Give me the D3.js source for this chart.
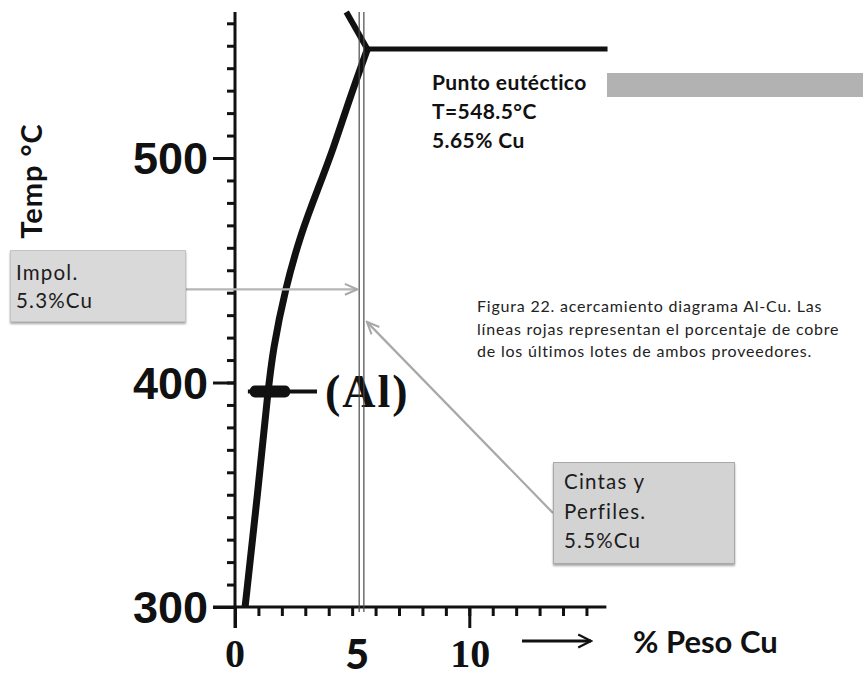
<!DOCTYPE html>
<html>
<head>
<meta charset="utf-8">
<script src="https://cdn.jsdelivr.net/npm/d3@7"></script>
<style>
  html, body { margin: 0; padding: 0; background: #fff; }
  svg { display: block; }
</style>
</head>
<body>
<svg id="chart" width="863" height="677"></svg>
<script>
// Al-rich corner of the Al-Cu phase diagram
const solvusCu = [0.43, 0.94, 1.41, 1.62, 2.13, 2.82, 3.54, 4.18, 4.87, 5.65];
const solvusT  = [300, 347.7, 396.7, 414.5, 441.2, 466.6, 486.2, 503.6, 525.8, 548.5];
const liquidusCu = [5.65, 4.75];
const liquidusT  = [548.5, 565];
const eutecticCu = [5.65, 15.9];
const eutecticT  = [548.5, 548.5];
const alMarkT = 396;
const alMarkCu = [0.55, 3.5];
const supplierNames = ["Impol.", "Cintas y Perfiles."];
const supplierCu = [5.3, 5.5];
const yMajorTicks = [300, 400, 500];
const yMinorTicks = d3.range(300, 565, 10);
const xMinorTicks = d3.range(0, 16, 1);
const xMajorTicks = [0, 10];

const svg = d3.select("#chart");

const x = d3.scaleLinear().domain([0, 10]).range([235, 469.3]);
const y = d3.scaleLinear().domain([300, 500]).range([607, 158]);
const yTop = 565, xEnd = 15.85;

const ink = "#111";

// ----- axes -----
const axisG = svg.append("g");
// y axis line (extends down to the long 0 tick)
axisG.append("line")
  .attr("x1", x(0)).attr("x2", x(0))
  .attr("y1", y(yTop)).attr("y2", y(300) + 21)
  .attr("stroke", ink).attr("stroke-width", 3);
// x axis line (extends left to the long 300 tick)
axisG.append("line")
  .attr("x1", x(0) - 22).attr("x2", x(xEnd))
  .attr("y1", y(300)).attr("y2", y(300))
  .attr("stroke", ink).attr("stroke-width", 3);

const yMinor = d3.axisLeft(y).tickValues(yMinorTicks).tickSize(8).tickFormat("");
const yMajor = d3.axisLeft(y).tickValues(yMajorTicks).tickSize(22).tickPadding(5).tickFormat(d3.format("d"));
const xMinor = d3.axisBottom(x).tickValues(xMinorTicks).tickSize(9).tickFormat("");
const xMajor = d3.axisBottom(x).tickValues(xMajorTicks).tickSize(21).tickFormat("");

function styleAxis(g, w) {
  g.select(".domain").remove();
  g.selectAll(".tick line").attr("stroke", ink).attr("stroke-width", w);
}
axisG.append("g").attr("transform", `translate(${x(0)},0)`).call(yMinor).call(styleAxis, 3);
const yMaj = axisG.append("g").attr("transform", `translate(${x(0)},0)`).call(yMajor).call(styleAxis, 3);
yMaj.selectAll(".tick text")
  .attr("fill", ink)
  .attr("font-family", "'Liberation Sans', Arial, sans-serif")
  .attr("font-weight", "bold")
  .attr("font-size", 45)
  .attr("dy", "0.35em");
axisG.append("g").attr("transform", `translate(0,${y(300)})`).call(xMinor).call(styleAxis, 3);
axisG.append("g").attr("transform", `translate(0,${y(300)})`).call(xMajor).call(styleAxis, 3);

// x tick labels: the printed 0 and 10, plus the bold 5
const xLabelData = [
  {v: 0, t: "0", serif: true, dx: 0},
  {v: 5, t: "5", serif: false, dx: 5},
  {v: 10, t: "10", serif: true, dx: 1}
];
svg.append("g").selectAll("text").data(xLabelData).join("text")
  .attr("x", d => x(d.v) + d.dx)
  .attr("y", d => d.serif ? 667 : 669)
  .attr("text-anchor", "middle")
  .attr("fill", ink)
  .attr("font-family", d => d.serif ? "'Liberation Serif', serif" : "Lato, sans-serif")
  .attr("font-weight", d => d.serif ? "bold" : 900)
  .attr("font-size", d => d.serif ? 40 : 41)
  .text(d => d.t);

// ----- phase boundaries -----
const solvus = d3.zip(solvusCu, solvusT);
svg.append("path")
  .attr("d", d3.line().x(d => x(d[0])).y(d => y(d[1])).curve(d3.curveBasis)(solvus))
  .attr("fill", "none").attr("stroke", ink).attr("stroke-width", 7);
svg.append("path")
  .attr("d", d3.line().x(d => x(d[0])).y(d => y(d[1]))(d3.zip(liquidusCu, liquidusT)))
  .attr("fill", "none").attr("stroke", ink).attr("stroke-width", 6);
svg.append("path")
  .attr("d", d3.line().x(d => x(d[0])).y(d => y(d[1]))(d3.zip(eutecticCu, eutecticT)))
  .attr("fill", "none").attr("stroke", ink).attr("stroke-width", 5);

// (Al) marker on the solvus
const alG = svg.append("g");
alG.append("line")
  .attr("x1", x(alMarkCu[0])).attr("x2", x(alMarkCu[1]))
  .attr("y1", y(alMarkT)).attr("y2", y(alMarkT))
  .attr("stroke", ink).attr("stroke-width", 4);
alG.append("rect")
  .attr("x", x(alMarkCu[0]) + 2).attr("width", x(2.35) - x(alMarkCu[0]) - 2)
  .attr("y", y(alMarkT) - 6).attr("height", 12).attr("rx", 5)
  .attr("fill", ink);
alG.append("text")
  .attr("x", x(alMarkCu[1]) + 8).attr("y", y(alMarkT) + 16)
  .attr("fill", ink)
  .attr("font-family", "'Liberation Serif', serif")
  .attr("font-weight", "bold").attr("font-size", 46)
  .attr("letter-spacing", 2)
  .text("(Al)");

// ----- supplier composition lines -----
svg.append("g").selectAll("line").data(supplierCu).join("line")
  .attr("x1", d => x(d)).attr("x2", d => x(d))
  .attr("y1", y(yTop)).attr("y2", y(300) + 5)
  .attr("stroke", "#4a4a4a").attr("stroke-width", 1.2);

// ----- axis titles -----
svg.append("text")
  .attr("transform", "translate(42,181) rotate(-90)")
  .attr("text-anchor", "middle")
  .attr("fill", ink)
  .attr("font-family", "Lato, sans-serif").attr("font-weight", "bold")
  .attr("font-size", 29).attr("letter-spacing", 1)
  .text("Temp °C");

const defs = svg.append("defs");
defs.append("marker").attr("id", "blackHead")
  .attr("viewBox", "0 0 10 10").attr("refX", 9).attr("refY", 5)
  .attr("markerWidth", 5).attr("markerHeight", 5).attr("markerUnits", "strokeWidth")
  .attr("orient", "auto")
  .append("path").attr("d", "M1,1 L9,5 L1,9").attr("fill", "none").attr("stroke", ink).attr("stroke-width", 1.4);
defs.append("marker").attr("id", "grayHead")
  .attr("viewBox", "0 0 10 10").attr("refX", 9).attr("refY", 5)
  .attr("markerWidth", 7).attr("markerHeight", 7).attr("markerUnits", "strokeWidth")
  .attr("orient", "auto")
  .append("path").attr("d", "M1,1.5 L9,5 L1,8.5").attr("fill", "none").attr("stroke", "#a8a8a8").attr("stroke-width", 1.3);
const shadow = defs.append("filter").attr("id", "boxShadow")
  .attr("x", "-10%").attr("y", "-10%").attr("width", "120%").attr("height", "130%");
shadow.append("feDropShadow").attr("dx", 0).attr("dy", 2).attr("stdDeviation", 1.2)
  .attr("flood-color", "#000").attr("flood-opacity", 0.35);

svg.append("line")
  .attr("x1", 522).attr("x2", 591).attr("y1", 641).attr("y2", 641)
  .attr("stroke", ink).attr("stroke-width", 3.2).attr("marker-end", "url(#blackHead)");
svg.append("text")
  .attr("x", 633).attr("y", 653)
  .attr("fill", ink)
  .attr("font-family", "Lato, sans-serif").attr("font-weight", "bold")
  .attr("font-size", 31)
  .text("% Peso Cu");

// ----- eutectic point note -----
const eutLines = ["Punto eutéctico", "T=548.5°C", "5.65% Cu"];
svg.append("g").selectAll("text").data(eutLines).join("text")
  .attr("x", 432).attr("y", (d, i) => 90 + i * 29)
  .attr("fill", ink)
  .attr("font-family", "Lato, sans-serif").attr("font-weight", "bold")
  .attr("font-size", 21).attr("letter-spacing", 0.4)
  .text(d => d);
svg.append("rect")
  .attr("x", 607).attr("y", 73).attr("width", 256).attr("height", 24)
  .attr("fill", "#b2b2b2");

// ----- caption -----
const caption = [
  "Figura 22. acercamiento diagrama Al-Cu. Las",
  "líneas rojas representan el porcentaje de cobre",
  "de los últimos lotes de ambos proveedores."
];
svg.append("g").selectAll("text").data(caption).join("text")
  .attr("x", 477).attr("y", (d, i) => 312 + i * 22.5)
  .attr("fill", "#222")
  .attr("font-family", "Lato, sans-serif")
  .attr("font-size", 16).attr("letter-spacing", 0.8)
  .text(d => d);

// ----- supplier callouts -----
const impolT = 441.5, cintasT = 427;
svg.append("line")
  .attr("x1", 185).attr("y1", y(impolT)).attr("x2", x(supplierCu[0]) - 2).attr("y2", y(impolT))
  .attr("stroke", "#b5b5b5").attr("stroke-width", 2.2).attr("marker-end", "url(#grayHead)");
svg.append("line")
  .attr("x1", 553).attr("y1", 513).attr("x2", x(supplierCu[1]) + 3).attr("y2", y(cintasT))
  .attr("stroke", "#a8a8a8").attr("stroke-width", 2.2).attr("marker-end", "url(#grayHead)");

function callout(bx, by, bw, bh, fill, stroke, lines, tx, ty, lh) {
  svg.append("rect")
    .attr("x", bx).attr("y", by).attr("width", bw).attr("height", bh)
    .attr("fill", fill).attr("stroke", stroke).attr("stroke-width", 1)
    .attr("filter", "url(#boxShadow)");
  svg.append("g").selectAll("text").data(lines).join("text")
    .attr("x", tx).attr("y", (d, i) => ty + i * lh)
    .attr("fill", "#1c1c1c")
    .attr("font-family", "Lato, sans-serif")
    .attr("font-size", 20.5).attr("letter-spacing", 1.2)
    .text(d => d);
}
callout(10.5, 250.5, 175, 71, "#d9d9d9", "#c4c4c4",
  [supplierNames[0], supplierCu[0] + "%Cu"], 16, 280, 28);
callout(553.5, 462.5, 181, 101, "#d3d3d3", "#a9a9a9",
  ["Cintas y", "Perfiles.", supplierCu[1] + "%Cu"], 564, 489, 29.5);
</script>
</body>
</html>
